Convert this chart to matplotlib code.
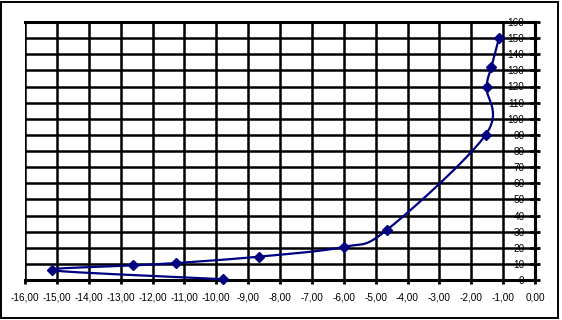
import numpy as np
import matplotlib
matplotlib.use('Agg')
import matplotlib.pyplot as plt
from matplotlib.patches import Rectangle

# punti (x, y)
x_vals = [-9.8, -15.15, -12.6, -11.25, -8.65, -6.0, -4.65, -1.55, -1.52, -1.37, -1.13]
y_vals = [0.5, 6.0, 9.0, 10.5, 14.5, 20.5, 31.0, 90.0, 119.5, 132.0, 150.0]

x_ticks = np.arange(-16, 0.5, 1)
y_ticks = np.arange(0, 161, 10)

plt.rcParams['font.family'] = ['Liberation Sans', 'DejaVu Sans']

W, H = 562, 320
fig = plt.figure(figsize=(W / 100, H / 100), dpi=100)
fig.add_artist(Rectangle((1 / W, 2 / H), 557 / W, 316 / H, transform=fig.transFigure,
                         fill=False, edgecolor='black', linewidth=1.4))

ax = fig.add_axes([25 / W, 40 / H, 510 / W, 258 / H])
ax.set_xlim(-16, 0)
ax.set_ylim(0, 160)


def smooth(xs, ys, sx, sy, n=30):
    # curva tipo Catmull-Rom calcolata in coordinate schermo
    p = np.column_stack([np.array(xs) * sx, np.array(ys) * sy])
    p = np.vstack([p[0], p, p[-1]])
    out = []
    for i in range(1, len(p) - 2):
        p0, p1, p2, p3 = p[i - 1], p[i], p[i + 1], p[i + 2]
        c1 = p1 + (p2 - p0) / 6
        c2 = p2 - (p3 - p1) / 6
        t = np.linspace(0, 1, n)[:, None]
        seg = ((1 - t) ** 3) * p1 + 3 * ((1 - t) ** 2) * t * c1 + 3 * (1 - t) * t ** 2 * c2 + t ** 3 * p2
        out.append(seg)
    out = np.vstack(out)
    return out[:, 0] / sx, out[:, 1] / sy


sx = 510 / 16
sy = 258 / 160
cx, cy = smooth(x_vals, y_vals, sx, sy)
ax.plot(cx, cy, color='#000080', linewidth=1.6, zorder=4, clip_on=False)
ax.plot(x_vals, y_vals, linestyle='none', marker='D', markersize=5,
        color='#000080', zorder=5, clip_on=False)

ax.set_xticks(x_ticks)
ax.set_yticks(y_ticks)
ax.set_xticklabels([f'{v:.2f}'.replace('.', ',') for v in x_ticks])
ax.set_yticklabels([f'{int(v)}' for v in y_ticks])
ax.grid(True, color='black', linewidth=1.8)
ax.set_axisbelow(True)

ax.spines['left'].set_position(('data', 0))
for s in ax.spines.values():
    s.set_linewidth(2.2)
    s.set_color('black')

ax.tick_params(axis='x', direction='out', length=3, width=2, pad=6, labelsize=7.2)
ax.tick_params(axis='y', direction='inout', length=7, width=2, pad=4, labelsize=7.2)
ax.tick_params(axis='y', right=False)

fig.savefig('out.png', dpi=100, facecolor='white')
